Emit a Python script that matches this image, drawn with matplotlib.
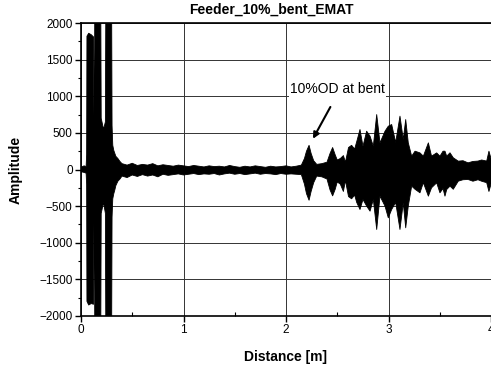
import matplotlib
matplotlib.use("Agg")
import matplotlib.pyplot as plt
from matplotlib.ticker import MultipleLocator
import numpy as np

plt.rcParams['font.family'] = ['Liberation Sans', 'DejaVu Sans']

title = "Feeder_10%_bent_EMAT"
xlabel = "Distance [m]"
ylabel = "Amplitude"
annotation_text = "10%OD at bent"
x_ticks = [0, 1, 2, 3, 4]
y_ticks = [-2000, -1500, -1000, -500, 0, 500, 1000, 1500, 2000]

# Envelope of the waveform (upper / lower extent)
pulse_x = [0.00, 0.03, 0.05, 0.055, 0.058, 0.075, 0.10, 0.122, 0.127, 0.131, 0.135, 0.165,
           0.192, 0.197, 0.22, 0.238, 0.243, 0.27, 0.298, 0.303, 0.31, 0.32, 0.33, 0.34, 0.36, 0.38]
pulse_up = [30, 50, 40, 200, 1820, 1860, 1840, 1810, 700, 600, 2600, 2600,
            2600, 700, 550, 650, 2600, 2600, 2600, 600, 330, 260, 220, 180, 150, 110]
pulse_lo = [-30, -40, -50, -200, -1800, -1850, -1830, -1840, -700, -600, -2600, -2600,
            -2600, -600, -450, -600, -2600, -2600, -2600, -650, -400, -330, -280, -220, -160, -130]

noise_x = [0.40, 0.45, 0.50, 0.55, 0.60, 0.65, 0.70, 0.75, 0.80, 0.85, 0.90, 0.95,
           1.00, 1.05, 1.10, 1.15, 1.20, 1.25, 1.30, 1.35, 1.40, 1.45, 1.50, 1.55,
           1.60, 1.65, 1.70, 1.75, 1.80, 1.85, 1.90, 1.95, 2.00, 2.05, 2.10]
noise_up = [80, 60, 85, 55, 70, 60, 80, 50, 65, 55, 45, 60,
            50, 40, 55, 45, 35, 50, 40, 45, 35, 55, 40, 30,
            45, 35, 50, 40, 30, 45, 35, 40, 50, 35, 45]
noise_lo = [-90, -110, -75, -95, -70, -90, -75, -100, -65, -80, -70, -60,
            -75, -65, -55, -70, -60, -65, -55, -75, -60, -50, -65, -55,
            -70, -60, -50, -65, -55, -60, -70, -55, -65, -60, -65]

echo_x = [2.15, 2.18, 2.20, 2.225, 2.245, 2.27, 2.30, 2.35, 2.40, 2.43, 2.455, 2.48, 2.50,
          2.53, 2.56, 2.58, 2.61, 2.64, 2.67, 2.69, 2.722, 2.751, 2.787, 2.82, 2.852, 2.885,
          2.917, 2.966, 2.998, 3.031, 3.07, 3.112, 3.144, 3.168, 3.193, 3.226, 3.259, 3.307,
          3.34, 3.389, 3.42, 3.47, 3.502, 3.532, 3.551, 3.568, 3.60, 3.632, 3.681, 3.727,
          3.776, 3.824, 3.873, 3.909, 3.958, 3.98, 4.00]
echo_up = [60, 150, 250, 330, 220, 120, 70, 80, 100, 220, 300, 200, 130,
           150, 190, 100, 300, 330, 280, 380, 546, 318, 523, 455, 318, 750,
           364, 523, 591, 614, 370, 728, 410, 682, 364, 182, 250, 227,
           182, 364, 182, 227, 182, 250, 250, 182, 228, 160, 114, 120,
           91, 110, 115, 130, 115, 250, 150]
echo_lo = [-70, -200, -330, -420, -300, -180, -90, -100, -130, -280, -360, -270, -170,
           -200, -300, -150, -370, -400, -350, -450, -546, -410, -500, -569, -410, -819,
           -364, -500, -660, -546, -450, -819, -455, -796, -500, -227, -270, -318,
           -180, -364, -250, -182, -318, -260, -364, -273, -227, -270, -159, -140,
           -136, -160, -140, -160, -180, -300, -200]

sig_x = np.array(pulse_x + noise_x + echo_x)
sig_up = np.array(pulse_up + noise_up + echo_up)
sig_lo = np.array(pulse_lo + noise_lo + echo_lo)

fig = plt.figure(figsize=(4.91, 3.66), dpi=100)
ax = fig.add_axes([81/491, 50/366, 410/491, 293/366])

ax.fill_between(sig_x, sig_lo, sig_up, color='black', lw=0.6, zorder=3)

ax.set_xlim(0, 4)
ax.set_ylim(-2000, 2000)
ax.set_xticks(x_ticks)
ax.set_yticks(y_ticks)
ax.xaxis.set_minor_locator(MultipleLocator(0.5))
ax.yaxis.set_minor_locator(MultipleLocator(250))
ax.tick_params(axis='both', which='major', direction='out', length=4, width=1, labelsize=8.5, pad=2)
ax.tick_params(axis='y', which='minor', direction='out', length=2.5, width=0.8)
ax.tick_params(axis='x', which='minor', direction='in', length=3, width=0.8)
ax.grid(True, which='major', color='#333333', lw=0.7, zorder=1)
for s in ax.spines.values():
    s.set_linewidth(1.2)
ax.spines['right'].set_visible(False)

ax.set_xlabel(xlabel, fontsize=10, fontweight='bold', labelpad=10)
ax.set_ylabel(ylabel, fontsize=10, fontweight='bold', labelpad=12)
fig.text(271/491, 1 - 10/366, title, fontsize=10, fontweight='bold', ha='center', va='center')

ax.text(2.04, 1095, annotation_text, fontsize=10, ha='left', va='center', zorder=5,
        bbox=dict(facecolor='white', edgecolor='none', pad=0.5))
ax.annotate('', xy=(2.25, 386), xytext=(2.446, 887),
            arrowprops=dict(arrowstyle='-|>', color='black', lw=1.5, mutation_scale=9))

fig.savefig('out.png', dpi=100)
